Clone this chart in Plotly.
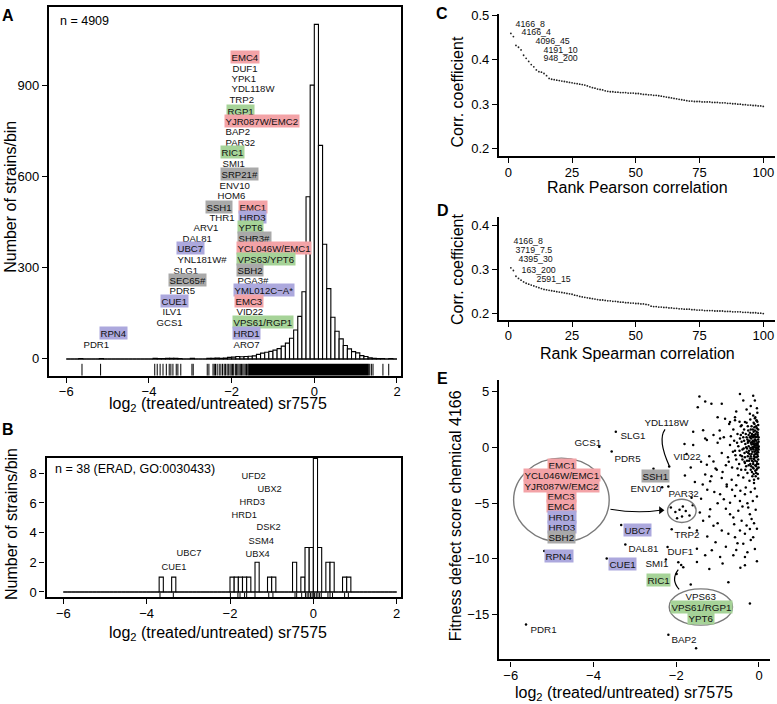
import plotly.graph_objects as go

# ======================= DATA =======================
# Panel A: histogram (bin width 0.1 from -6 to 2), n = 4909
a_bin_start = -6.0
a_bin_width = 0.1
a_counts = [0, 0, 0, 1, 0, 0, 0, 0, 1, 0,
            0, 0, 0, 0, 0, 0, 0, 0, 0, 0,
            0, 2, 1, 1, 2, 2, 2, 1, 0, 0,
            2, 0, 0, 0, 2, 2, 3, 2, 3, 5,
            6, 8, 7, 8, 9, 10, 15, 19, 22, 25,
            29, 34, 42, 52, 68, 95, 140, 221, 533, 900,
            1100, 702, 377, 231, 137, 91, 66, 44, 33, 24,
            20, 11, 8, 4, 2, 1, 1, 0, 1, 0]
a_rug = [-5.62, -5.17, -3.86, -3.80, -3.73, -3.66, -3.58, -3.51, -3.47, -3.42,
         -3.34, -3.30, -3.23, -2.96, -2.93, -2.59, -2.55, -2.45, -2.42, -2.39,
         -2.35, -2.30, -2.26, -2.22, -2.18, -2.15, -2.11, -2.08, -2.04, -2.01,
         -1.98, -1.95, -1.91, -1.88, -1.85, -1.82, -1.79, -1.76, -1.73, -1.70,
         -1.67, -1.64, -1.61, 1.34, 1.38, 1.42, 1.66, 1.80]
a_rug_dense_span = [-1.60, 1.32]
a_n_text = "n = 4909"
# (name, highlight, x, y)
a_labels = [
    ("EMC4", "red", -2.03, 992), ("DUF1", None, -2.01, 958), ("YPK1", None, -2.03, 924),
    ("YDL118W", None, -2.05, 890), ("TRP2", None, -2.09, 854), ("RGP1", "green", -2.14, 816),
    ("YJR087W/EMC2", "red", -2.19, 782), ("BAP2", None, -2.18, 748), ("PAR32", None, -2.19, 714),
    ("RIC1", "green", -2.29, 680), ("SMI1", None, -2.25, 644), ("SRP21#", "gray", -2.29, 609),
    ("ENV10", None, -2.34, 573), ("HOM6", None, -2.39, 540),
    ("SSH1", "gray", -2.64, 501), ("EMC1", "red", -1.85, 501),
    ("THR1", None, -2.58, 467), ("HRD3", "blue", -1.85, 467),
    ("ARV1", None, -2.95, 433), ("YPT6", "green", -1.87, 433),
    ("DAL81", None, -3.22, 399), ("SHR3#", "gray", -1.87, 399),
    ("UBC7", "blue", -3.34, 364), ("YCL046W/EMC1", "red", -1.90, 364),
    ("YNL181W#", None, -3.34, 329), ("VPS63/YPT6", "green", -1.90, 329),
    ("SLG1", None, -3.44, 293), ("SBH2", "gray", -1.90, 293),
    ("SEC65#", "gray", -3.54, 258), ("PGA3#", None, -1.90, 258),
    ("PDR5", None, -3.54, 225), ("YML012C\u2212A*", "blue", -1.97, 225),
    ("CUE1", "blue", -3.74, 191), ("EMC3", "red", -1.95, 191),
    ("ILV1", None, -3.72, 156), ("VID22", None, -1.91, 156),
    ("GCS1", None, -3.85, 120), ("VPS61/RGP1", "green", -1.98, 120),
    ("RPN4", "blue", -5.22, 85), ("HRD1", "blue", -1.99, 85),
    ("PDR1", None, -5.62, 50), ("ARO7", None, -1.99, 50),
]

# Panel B: ERAD genes, n = 38
b_bin_start = -6.0
b_bin_width = 0.1
b_counts = [0, 0, 0, 0, 0, 0, 0, 0, 0, 0,
            0, 0, 0, 0, 0, 0, 0, 0, 0, 0,
            0, 0, 0, 1, 0, 0, 1, 0, 0, 0,
            0, 0, 0, 0, 0, 0, 0, 0, 0, 0,
            1, 1, 1, 1, 1, 0, 2, 0, 0, 1,
            1, 0, 0, 0, 0, 2, 0, 1, 3, 3,
            9, 3, 0, 2, 2, 0, 0, 1, 1, 0,
            0, 0, 0, 0, 0, 0, 0, 0, 0, 0]
b_rug = [-3.68, -3.36, -1.99, -1.81, -1.76, -1.65, -1.60, -1.40, -1.07, -0.97,
         -0.44, -0.40, -0.28, -0.19, -0.15, -0.11, -0.07, -0.03, 0.0, 0.03,
         0.07, 0.11, 0.15, 0.19, 0.35, 0.40, 0.46, 0.75, 0.84]
b_n_text = "n = 38 (ERAD, GO:0030433)"
b_labels = [("UFD2", -1.75, 7.85), ("UBX2", -1.37, 6.96), ("HRD3", -1.80, 6.13),
            ("HRD1", -1.99, 5.25), ("DSK2", -1.39, 4.40), ("SSM4", -1.59, 3.47),
            ("UBC7", -3.32, 2.63), ("UBX4", -1.67, 2.58), ("CUE1", -3.68, 1.69)]

# Panel C: top-100 Pearson correlations
c_rank = list(range(1, 101))
c_corr = [0.459, 0.452, 0.432, 0.428, 0.422, 0.410, 0.403, 0.396, 0.389, 0.384,
          0.377, 0.373, 0.372, 0.369, 0.364, 0.358, 0.356, 0.355, 0.354, 0.353,
          0.352, 0.351, 0.350, 0.349, 0.348, 0.347, 0.346, 0.345, 0.344, 0.343,
          0.341, 0.339, 0.337, 0.336, 0.334, 0.333, 0.332, 0.330, 0.329, 0.328,
          0.328, 0.327, 0.327, 0.326, 0.326, 0.326, 0.325, 0.325, 0.325, 0.324,
          0.324, 0.323, 0.322, 0.322, 0.321, 0.321, 0.320, 0.320, 0.319, 0.318,
          0.317, 0.316, 0.315, 0.314, 0.313, 0.312, 0.311, 0.310, 0.309, 0.308,
          0.307, 0.307, 0.306, 0.306, 0.306, 0.305, 0.305, 0.305, 0.305, 0.304,
          0.304, 0.304, 0.303, 0.303, 0.303, 0.302, 0.302, 0.301, 0.301, 0.300,
          0.300, 0.299, 0.299, 0.298, 0.298, 0.297, 0.297, 0.296, 0.296, 0.295]
c_labels = [("4166_8", 2.35, 0.482), ("4166_4", 4.6, 0.463), ("4096_45", 10.2, 0.443),
            ("4191_10", 13.1, 0.424), ("948_200", 13.1, 0.404)]

# Panel D: top-100 Spearman correlations
d_rank = list(range(1, 101))
d_corr = [0.303, 0.297, 0.284, 0.279, 0.275, 0.271, 0.268, 0.266, 0.264, 0.262,
          0.260, 0.258, 0.256, 0.254, 0.253, 0.252, 0.251, 0.250, 0.249, 0.248,
          0.247, 0.246, 0.245, 0.244, 0.243, 0.241, 0.240, 0.238, 0.237, 0.236,
          0.235, 0.234, 0.233, 0.232, 0.231, 0.230, 0.230, 0.229, 0.228, 0.228,
          0.227, 0.227, 0.226, 0.225, 0.225, 0.224, 0.224, 0.223, 0.223, 0.222,
          0.222, 0.221, 0.221, 0.220, 0.219, 0.216, 0.215, 0.215, 0.214, 0.214,
          0.213, 0.213, 0.212, 0.212, 0.211, 0.211, 0.210, 0.210, 0.209, 0.209,
          0.209, 0.208, 0.208, 0.207, 0.207, 0.207, 0.206, 0.206, 0.206, 0.206,
          0.205, 0.205, 0.205, 0.205, 0.204, 0.204, 0.204, 0.203, 0.203, 0.203,
          0.203, 0.202, 0.202, 0.202, 0.201, 0.201, 0.201, 0.200, 0.200, 0.199]
d_labels = [("4166_8", 1.33, 0.366), ("3719_7.5", 2.35, 0.345), ("4395_30", 3.3, 0.324),
            ("163_200", 4.6, 0.300), ("2591_15", 10.5, 0.279)]

# Panel E: sr7575 log2 ratio vs fitness defect score of chemical 4166
e_named_points = [(-5.63, -15.87), (-5.19, -9.29), (-3.86, 0.06), (-3.46, 1.39), (-3.56, -0.38),
                  (-3.68, -9.96), (-3.33, -6.96), (-3.23, -8.70), (-2.55, -1.91), (-2.34, -3.57),
                  (-2.19, -3.50), (-2.11, -7.35), (-2.21, -8.94), (-2.25, -10.05), (-1.99, -11.35),
                  (-2.19, -16.80), (-2.17, -1.71),
                  (-2.13, -5.40), (-2.02, -5.80), (-1.92, -5.60), (-1.84, -5.30), (-1.77, -5.70),
                  (-1.98, -6.35), (-1.86, -6.20), (-1.68, -6.10),
                  (-1.95, -10.30), (-1.88, -10.55), (-1.83, -10.75),
                  (-1.52, -18.0), (-0.74, -12.1), (-0.22, -14.0), (-1.65, -12.3)]
e_cloud_points = [
    (-0.05, 0.2), (-0.08, -0.3), (-0.12, 0.5), (-0.03, -0.8), (-0.15, -0.1), (-0.2, 0.4),
    (-0.1, 1.0), (-0.06, 1.4), (-0.18, -0.6), (-0.25, 0.1), (-0.02, 0.7), (-0.09, -1.2),
    (-0.14, -1.5), (-0.22, -1.0), (-0.3, -0.4), (-0.28, 0.7), (-0.04, -1.9), (-0.11, 1.8),
    (-0.17, 1.2), (-0.33, 0.3), (-0.07, -2.3), (-0.2, -2.0), (-0.35, -1.3), (-0.4, -0.2),
    (-0.38, 0.9), (-0.26, 1.5), (-0.13, 2.2), (-0.02, 2.0), (-0.05, -1.5), (-0.16, 0.0),
    (-0.24, -0.3), (-0.01, -0.2), (-0.1, 0.0), (-0.07, 0.6), (-0.19, 0.8), (-0.12, -0.8),
    (-0.03, 1.1), (-0.27, -0.8), (-0.31, -1.7), (-0.45, -0.7), (-0.42, 0.5), (-0.5, 0.1),
    (-0.48, -1.5), (-0.36, 1.6), (-0.21, 2.5), (-0.09, 2.7), (-0.04, 3.1), (-0.16, -2.6),
    (-0.28, -2.3), (-0.43, -2.0), (-0.55, -1.1), (-0.6, 0.6), (-0.52, 1.2), (-0.44, 1.9),
    (-0.3, 2.2), (-0.58, -0.3), (-0.65, -1.8), (-0.62, 1.6), (-0.7, 0.2), (-0.75, -0.9),
    (-0.02, -2.8), (-0.12, -3.2), (-0.23, -3.0), (-0.38, -2.7), (-0.5, -2.5), (-0.66, -2.9),
    (-0.8, -1.6), (-0.85, 0.9), (-0.72, 2.1), (-0.58, 2.7), (-0.06, -0.5), (-0.14, 0.3),
    (-0.08, 0.9), (-0.11, -0.4), (-0.19, -0.2), (-0.04, 0.4), (-0.02, -1.1), (-0.23, 0.6),
    (-0.17, -1.2), (-0.13, 1.4), (-0.29, -0.1), (-0.34, -0.9), (-0.07, -1.7), (-0.03, -0.1),
    (-0.1, -0.9), (-0.25, 1.1), (-0.15, -1.8), (-0.05, 1.7), (-0.21, -1.5), (-0.32, 1.2),
    (-0.4, -1.1), (-0.46, 0.8), (-0.01, 0.5), (-0.09, -2.1), (-0.18, 1.9), (-0.06, 2.4),
    (-0.35, -0.5), (-0.27, 0.4), (-0.13, -2.4), (-0.02, -1.5),
    (-0.01, 0.1), (-0.03, 0.3), (-0.05, -0.05), (-0.07, 0.15), (-0.09, 0.35), (-0.11, 0.2),
    (-0.13, -0.2), (-0.15, 0.6), (-0.02, -0.45), (-0.04, -0.65), (-0.06, -0.9), (-0.08, 1.2),
    (-0.1, 1.5), (-0.12, -1.05), (-0.14, 0.9), (-0.16, -0.4), (-0.18, 0.25), (-0.2, -0.8),
    (-0.22, 1.3), (-0.24, -1.2), (-0.26, 0.55), (-0.01, 0.9), (-0.03, 1.3), (-0.05, -1.3),
    (-0.07, 1.9), (-0.09, -1.6), (-0.11, 2.1), (-0.13, -1.9), (-0.15, 1.6), (-0.17, -2.2),
    (-0.19, 1.0), (-0.21, -0.05), (-0.23, -0.6), (-0.25, -1.6), (-0.27, 1.9), (-0.29, -1.2),
    (-0.31, 0.0), (-0.33, -2.0), (-0.36, 0.6), (-0.39, 1.3), (-0.02, 1.6), (-0.04, 2.3),
    (-0.06, -2.0), (-0.08, -2.6), (-0.1, 2.6), (-0.12, -2.9), (-0.03, -2.4), (-0.01, -1.8),
    (-0.05, 0.95), (-0.07, -0.15), (-0.09, 0.65), (-0.11, -0.65), (-0.13, 0.05), (-0.16, 1.0),
    (-0.18, -1.0), (-0.2, 1.6), (-0.02, 0.0), (-0.04, -0.3), (-0.06, 0.3), (-0.08, -0.6),
    (-0.1, 0.7), (-0.12, 1.1), (-0.14, -1.3), (-0.17, 0.45), (-0.19, -1.7), (-0.22, 0.9),
    (-0.26, -0.5), (-0.3, 0.9), (-0.34, -1.4), (-0.37, -0.1), (-0.41, -0.8), (-0.44, 1.1),
    (-0.47, -0.3), (-0.53, 0.4), (-0.57, -0.7), (-0.63, -0.4), (-0.68, 1.0), (-0.73, -1.3),
    (-0.47, 2.3), (-0.52, -1.9),
    (-0.9, -0.5), (-1.0, 0.4), (-1.2, -0.8), (-1.05, -1.9), (-0.95, 1.5), (-1.3, 0.8),
    (-1.4, -1.3), (-0.88, -2.2), (-1.15, -2.6), (-0.78, -3.5), (-0.65, -3.8), (-0.55, -3.4),
    (-0.45, -3.9), (-0.32, -3.6), (-0.2, -4.0), (-0.1, -3.7), (-0.05, -4.4), (-0.15, -4.8),
    (-0.28, -5.0), (-0.4, -5.3), (-0.08, -5.6), (-0.22, -6.0), (-0.12, -6.8), (-0.05, -7.3),
    (-0.3, -7.0), (-0.6, -6.9), (-0.7, -6.0), (-0.8, -5.5), (-1.0, -5.0), (-1.08, -4.0),
    (-1.25, -3.8), (-1.4, -4.6), (-1.55, -3.1), (-1.65, -1.8), (-1.75, -0.6), (-1.6, -5.2),
    (-1.2, -6.2), (-1.0, -6.8), (-0.52, -8.6), (-0.2, -8.3), (-0.1, -9.1), (-0.28, -9.4),
    (-0.55, -9.2), (-0.8, -8.9), (-1.05, -8.5), (-1.25, -8.0), (-0.05, -10.2), (-0.45, -10.8),
    (-1.2, -10.9),
    (-1.44, 4.55), (-1.30, 4.10), (-1.15, 3.90), (-0.90, 3.90), (-1.48, 3.60), (-0.46, 4.78),
    (-0.14, 4.63), (-0.38, 4.19), (-0.10, 4.19), (-0.82, 2.57), (-0.70, 2.27), (-0.58, 2.42),
    (-1.59, 1.39), (-1.35, 1.54), (-1.10, 1.10), (-0.94, 0.80), (-1.26, 0.65), (-0.22, 3.0),
    (-0.14, 2.86), (-0.06, 2.4), (-0.42, 1.98), (-0.34, 2.27), (-0.3, 3.4), (-0.55, 3.2),
    (-0.2, 3.7), (-0.05, 3.5), (-1.0, 2.7), (-1.8, 0.3), (-1.59, 0.21),
    (-1.79, -2.53), (-1.36, -3.33), (-1.30, -2.44), (-1.18, -3.04), (-1.26, -1.56),
    (-1.10, -1.27), (-1.02, -2.0), (-0.90, -2.74), (-0.78, -3.33), (-0.94, -4.21),
    (-0.85, -4.65), (-0.70, -4.96), (-0.58, -4.36), (-0.46, -4.81), (-0.34, -4.21),
    (-0.50, -5.69), (-0.26, -5.4), (-0.62, -6.28), (-0.42, -6.58), (-0.18, -6.43),
    (-1.18, -5.54), (-1.35, -6.58), (-1.10, -7.02), (-0.90, -7.46), (-0.74, -7.75),
    (-0.58, -8.05), (-0.46, -7.46), (-0.34, -7.75), (-0.22, -7.31), (-0.14, -8.05),
    (-0.38, -8.64), (-1.50, -9.08), (-1.30, -9.67), (-1.14, -9.23), (-0.94, -9.82),
    (-0.62, -9.67), (-0.34, -9.82), (-0.34, -10.56), (-0.88, -10.41), (-1.50, -10.27),
    (-1.68, -7.2), (-1.50, -7.46), (-1.43, -5.84), (-1.63, -4.51),
]
# (name, highlight, x(left), y)
e_labels = [("YDL118W", None, -2.81, 2.27), ("SLG1", None, -3.38, 1.15), ("GCS1", None, -4.49, 0.44),
            ("PDR5", None, -3.53, -0.97), ("VID22", None, -2.11, -0.82), ("SSH1", "gray", -2.85, -2.53),
            ("ENV10", None, -3.13, -3.68), ("PAR32", None, -2.23, -4.07), ("UBC7", "blue", -3.29, -7.40),
            ("RPN4", "blue", -5.19, -9.76), ("DAL81", None, -3.18, -8.99), ("TRP2", None, -2.07, -7.81),
            ("DUF1", None, -2.25, -9.29), ("SMI1", None, -2.79, -10.32), ("CUE1", "blue", -3.66, -10.47),
            ("RIC1", "green", -2.73, -11.88), ("PDR1", None, -5.57, -16.31), ("BAP2", None, -2.15, -17.19)]
e_group1 = [("EMC1", "red"), ("YCL046W/EMC1", "red"), ("YJR087W/EMC2", "red"), ("EMC3", "red"),
            ("EMC4", "red"), ("HRD1", "blue"), ("HRD3", "blue"), ("SBH2", "gray")]
e_group1_y = [-1.56, -2.50, -3.42, -4.36, -5.27, -6.22, -7.17, -8.05]
e_group2 = [("VPS63", None), ("VPS61/RGP1", "green"), ("YPT6", "green")]
e_group2_y = [-13.36, -14.34, -15.27]

# ======================= STYLE / LAYOUT =======================
FONT = "Liberation Sans, Arial, Helvetica, sans-serif"
W, H = 777, 704
HL = {"red": "#f3a3a7", "green": "#a6d398", "blue": "#aca8dd", "gray": "#a9a9a9"}


def px(x):
    return x / W


def py(y):
    return 1 - y / H


def rug_xy(vals, y0, y1):
    xs, ys = [], []
    for v in vals:
        xs += [v, v, None]
        ys += [y0, y1, None]
    return xs, ys


fig = go.Figure()

# ---- Panel A ----
a_centers = [a_bin_start + (i + 0.5) * a_bin_width for i in range(len(a_counts))]
a_edges = [a_bin_start, a_bin_start + len(a_counts) * a_bin_width]
A_YR = [-55.3, 1157]
fig.add_trace(go.Scatter(x=a_edges, y=[0, 0], mode="lines", line=dict(color="black", width=1.1),
                         xaxis="x", yaxis="y", hoverinfo="skip"))
fig.add_trace(go.Bar(x=a_centers, y=a_counts, width=a_bin_width,
                     marker=dict(color="white", line=dict(color="black", width=1.1)),
                     xaxis="x", yaxis="y"))
rx, ry = rug_xy(a_rug, -16, A_YR[0])
fig.add_trace(go.Scatter(x=rx, y=ry, mode="lines", line=dict(color="black", width=1),
                         xaxis="x", yaxis="y", hoverinfo="skip"))

# ---- Panel B ----
b_centers = [b_bin_start + (i + 0.5) * b_bin_width for i in range(len(b_counts))]
b_edges = [b_bin_start, b_bin_start + len(b_counts) * b_bin_width]
B_YR = [-0.353, 9.067]
fig.add_trace(go.Scatter(x=b_edges, y=[0, 0], mode="lines", line=dict(color="black", width=1.1),
                         xaxis="x2", yaxis="y2", hoverinfo="skip"))
fig.add_trace(go.Bar(x=b_centers, y=b_counts, width=b_bin_width,
                     marker=dict(color="white", line=dict(color="black", width=1.1)),
                     xaxis="x2", yaxis="y2"))
rx, ry = rug_xy(b_rug, -0.05, B_YR[0])
fig.add_trace(go.Scatter(x=rx, y=ry, mode="lines", line=dict(color="black", width=1),
                         xaxis="x2", yaxis="y2", hoverinfo="skip"))

# ---- Panel C, D ----
fig.add_trace(go.Scatter(x=c_rank, y=c_corr, mode="markers", marker=dict(color="#222222", size=1.8),
                         xaxis="x3", yaxis="y3"))
fig.add_trace(go.Scatter(x=d_rank, y=d_corr, mode="markers", marker=dict(color="#222222", size=1.8),
                         xaxis="x4", yaxis="y4"))

# ---- Panel E ----
ex = [p[0] for p in e_cloud_points] + [p[0] for p in e_named_points]
ey = [p[1] for p in e_cloud_points] + [p[1] for p in e_named_points]
fig.add_trace(go.Scatter(x=ex, y=ey, mode="markers", marker=dict(color="black", size=2.5),
                         xaxis="x5", yaxis="y5"))
# arrow head (points right) at the small circle
ARROW_START = (-3.59, -5.55)
ARROW_END = (-2.31, -5.64)
fig.add_trace(go.Scatter(x=[ARROW_END[0] - 0.06], y=[ARROW_END[1]], mode="markers",
                         marker=dict(symbol="triangle-right", size=7, color="black"),
                         xaxis="x5", yaxis="y5", hoverinfo="skip"))

axis_common = dict(showgrid=False, zeroline=False, showline=True, linecolor="black", linewidth=2.2,
                   ticks="outside", ticklen=5, tickwidth=1.3, tickcolor="black",
                   tickfont=dict(family=FONT, size=13, color="black"), fixedrange=True)
xaxis_extra = dict(ticklabelstandoff=-2)

fig.update_layout(
    width=W, height=H, margin=dict(l=0, r=0, t=0, b=0),
    paper_bgcolor="white", plot_bgcolor="rgba(0,0,0,0)", showlegend=False, barmode="overlay",
    font=dict(family=FONT, color="black"),
    xaxis=dict(axis_common, **xaxis_extra, domain=[px(49), px(401)], range=[-6.418, 2.097],
               tickvals=[-6, -4, -2, 0, 2], mirror=True, anchor="y"),
    yaxis=dict(axis_common, domain=[py(374), py(1)], range=A_YR, tickvals=[0, 300, 600, 900],
               mirror=True, anchor="x"),
    xaxis2=dict(axis_common, **xaxis_extra, domain=[px(46.5), px(401)], range=[-6.403, 2.103],
                tickvals=[-6, -4, -2, 0, 2], mirror=True, anchor="y2"),
    yaxis2=dict(axis_common, domain=[py(598), py(456.7)], range=B_YR, tickvals=[0, 2, 4, 6, 8],
                mirror=True, anchor="x2"),
    xaxis3=dict(axis_common, **xaxis_extra, domain=[px(499), px(775)], range=[-3.65, 104.6],
                tickvals=[0, 25, 50, 75, 100], anchor="y3"),
    yaxis3=dict(axis_common, domain=[py(151.7), py(8)], range=[0.1836, 0.5029], tickvals=[0.2, 0.3, 0.4, 0.5],
                tickformat=".1f", anchor="x3"),
    xaxis4=dict(axis_common, **xaxis_extra, domain=[px(499), px(775)], range=[-3.65, 104.6],
                tickvals=[0, 25, 50, 75, 100], anchor="y4"),
    yaxis4=dict(axis_common, domain=[py(317.3), py(213)], range=[0.1852, 0.4196], tickvals=[0.2, 0.3, 0.4],
                tickformat=".1f", anchor="x4"),
    xaxis5=dict(axis_common, **xaxis_extra, domain=[px(499), px(770)], range=[-6.283, 0.266],
                tickvals=[-6, -4, -2, 0], anchor="y5"),
    yaxis5=dict(axis_common, domain=[py(661), py(378)], range=[-19.01, 6.06], tickvals=[-15, -10, -5, 0, 5],
                anchor="x5"),
)

ann = []
shapes = []
LBL = 9.6


def label(text, x, y, xr, yr, hl=None, size=LBL, xanchor="left"):
    d = dict(text=text, x=x, y=y, xref=xr, yref=yr, showarrow=False, xanchor=xanchor, yanchor="middle",
             font=dict(family=FONT, size=size, color="#111111"), borderpad=0.5)
    if hl:
        d["bgcolor"] = HL[hl]
    ann.append(d)


def ptext(text, x, y, size, xanchor="center", angle=0, bold=False):
    t = "<b>%s</b>" % text if bold else text
    ann.append(dict(text=t, x=px(x), y=py(y), xref="paper", yref="paper", showarrow=False,
                    xanchor=xanchor, yanchor="middle", textangle=angle,
                    font=dict(family=FONT, size=size, color="black")))


for name, hl, x, y in a_labels:
    label(name, x, y, "x", "y", hl)
for name, x, y in b_labels:
    label(name, x, y, "x2", "y2", None, size=9.3)
for name, x, y in c_labels:
    label(name, x, y, "x3", "y3", None, size=8.8)
for name, x, y in d_labels:
    label(name, x, y, "x4", "y4", None, size=8.8)
for name, hl, x, y in e_labels:
    label(name, x, y, "x5", "y5", hl, size=9.8)
for (name, hl), y in zip(e_group1, e_group1_y):
    label(name, -4.77, y, "x5", "y5", hl, size=9.8, xanchor="center")
for (name, hl), y in zip(e_group2, e_group2_y):
    label(name, -1.40, y, "x5", "y5", hl, size=9.8, xanchor="center")

# n texts
ptext(a_n_text, 58, 15, 12.5, xanchor="left")
ptext(b_n_text, 53, 468.3, 12.5, xanchor="left")

# panel letters
ptext("A", 8, 10, 16, bold=True)
ptext("B", 7.5, 428, 16, bold=True)
ptext("C", 442, 8, 16, bold=True)
ptext("D", 442.5, 207, 16, bold=True)
ptext("E", 442.5, 377, 16, bold=True)

# axis titles
xt = "log<sub>2</sub> (treated/untreated) sr7575"
ptext(xt, 218, 403.5, 16)
ptext(xt, 218, 634.5, 16)
ptext(xt, 624, 695, 16)
ptext("Number of strains/bin", 11, 193, 16, angle=-90)
ptext("Number of strains/bin", 11, 524, 16, angle=-90)
ptext("Rank Pearson correlation", 637, 184, 16)
ptext("Rank Spearman correlation", 637, 351, 16)
ptext("Corr. coefficient", 458, 87.5, 16, angle=-90)
ptext("Corr. coefficient", 458, 267, 16, angle=-90)
ptext("Fitness defect score chemical 4166", 455, 516, 16, angle=-90)

# rug dense block in A
shapes.append(dict(type="rect", xref="x", yref="y", x0=a_rug_dense_span[0], x1=a_rug_dense_span[1],
                   y0=A_YR[0], y1=-16, fillcolor="black", line=dict(width=0)))
# ellipses in E
ell = dict(type="circle", xref="x5", yref="y5", line=dict(color="#7a7a7a", width=1.4))
shapes.append(dict(ell, x0=-5.93, x1=-3.62, y0=-8.49, y1=-0.97))
shapes.append(dict(ell, x0=-2.21, x1=-1.52, y0=-6.73, y1=-4.65))
shapes.append(dict(ell, x0=-2.17, x1=-0.64, y0=-15.93, y1=-12.68))
# arrow shaft
shapes.append(dict(type="path", xref="x5", yref="y5",
                   path="M %g,%g Q %g,%g %g,%g" % (ARROW_START[0], ARROW_START[1],
                                                  (ARROW_START[0] + ARROW_END[0]) / 2, -5.95,
                                                  ARROW_END[0] - 0.08, ARROW_END[1]),
                   line=dict(color="black", width=1.1)))
# connector curves in E
shapes.append(dict(type="path", xref="x5", yref="y5", path="M -2.27,1.60 Q -2.455,0.67 -2.17,-1.65",
                   line=dict(color="black", width=1.2)))
shapes.append(dict(type="path", xref="x5", yref="y5", path="M -1.95,-10.95 Q -2.14,-11.84 -1.93,-12.72",
                   line=dict(color="black", width=1.2)))

fig.update_layout(annotations=ann, shapes=shapes)
fig.write_html("out.html", config={"displayModeBar": False},
               post_script="document.body.style.margin='0px';")
